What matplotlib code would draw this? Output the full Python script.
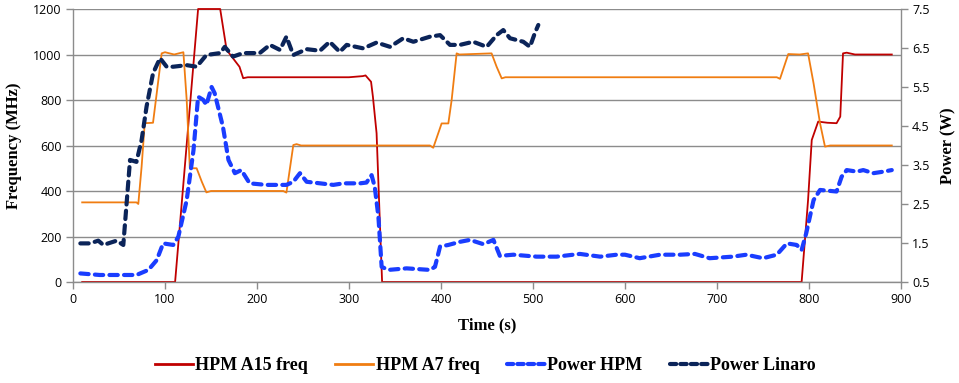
import matplotlib
matplotlib.use("Agg")
import matplotlib.pyplot as plt
from matplotlib.lines import Line2D

# ---- data ----
a15_t = [10, 105, 111, 136, 148, 160, 167, 181, 185, 190, 300, 315, 318, 324, 326, 330, 334, 336, 340,
         785, 792, 799, 803, 810, 820, 830, 834, 837, 841, 850, 890]
a15_f = [0, 0, 0, 1200, 1200, 1200, 1020, 946, 896, 900, 900, 905, 908, 880, 815, 654, 215, 0, 0,
         0, 0, 360, 624, 705, 700, 698, 727, 1005, 1008, 1000, 1000]

a7_t = [10, 69, 71, 74.6, 78, 87, 91, 96.4, 100, 110, 120, 123.6, 127, 134.4, 140, 145, 150, 228.6, 232,
        239.5, 243, 248, 388, 391.6, 400.7, 408, 411.6, 417, 420, 455, 460.5, 466, 470, 765, 768.5,
        777.5, 790, 799, 805, 812, 817.4, 823, 890]
a7_f = [350, 350, 343, 507, 698, 700, 829, 1005, 1010, 1000, 1010, 800, 500, 500, 441, 394, 400, 400, 393,
        602, 606, 600, 600, 590, 697, 697, 800, 1005, 1000, 1005, 946, 895, 900, 900, 893,
        1002, 1000, 1005, 873, 698, 595, 600, 600]

hpm_t = [8, 29, 69, 82, 91, 98, 109, 114.5, 123.6, 131, 136, 141.6, 145, 150.7, 154, 163, 169, 176, 183,
         192, 210, 232, 239.5, 246.7, 254, 268.5, 283, 294, 312, 319, 324.6, 328, 332, 335.5, 342.7,
         362.7, 388, 393.5, 399, 408, 420.6, 431.5, 446, 457, 464, 478.6, 504, 525.7, 551, 573, 591,
         600, 616, 638, 660, 676, 692, 717, 732, 750, 765, 776, 786.6, 792, 797, 805, 812, 830, 835.5,
         841, 852, 859, 870, 881, 890]
hpm_p = [0.72, 0.68, 0.68, 0.81, 1.06, 1.49, 1.45, 1.66, 2.6, 3.88, 5.25, 5.17, 5.04, 5.5, 5.34, 4.48, 3.63, 3.29, 3.37,
         3.03, 2.99, 2.99, 3.07, 3.29, 3.07, 3.03, 2.99, 3.03, 3.03, 3.05, 3.24, 2.94, 2.17, 0.89, 0.81,
         0.85, 0.81, 0.89, 1.41, 1.45, 1.53, 1.58, 1.47, 1.58, 1.17, 1.2, 1.15, 1.15, 1.22, 1.15, 1.2,
         1.2, 1.11, 1.2, 1.2, 1.22, 1.11, 1.15, 1.2, 1.11, 1.2, 1.49, 1.45, 1.32, 1.75, 2.6, 2.86, 2.82, 3.2,
         3.37, 3.33, 3.37, 3.29, 3.33, 3.37]

lin_t = [8, 18.5, 27.5, 33, 47.5, 54.7, 58, 62, 69, 74.6, 80, 87, 94.6, 101.8, 109, 123.6, 134.4, 145, 160,
         165, 174, 185, 203, 214, 225, 232, 239.5, 254, 268.5, 279, 290, 297.5, 315.6, 330, 344.6, 359,
         370, 388, 399, 409.8, 420.6, 435, 449.7, 460.5, 467.7, 475, 489.5, 496.7, 502, 505.8]
lin_p = [1.49, 1.49, 1.56, 1.45, 1.56, 1.45, 2.43, 3.63, 3.58, 4.14, 5.0, 5.85, 6.24, 6.02, 6.02, 6.06, 6.02, 6.32, 6.37,
         6.53, 6.28, 6.37, 6.37, 6.58, 6.45, 6.79, 6.32, 6.47, 6.43, 6.66, 6.4, 6.58, 6.49, 6.64, 6.53, 6.75,
         6.66, 6.79, 6.83, 6.58, 6.58, 6.66, 6.53, 6.83, 6.96, 6.75, 6.66, 6.53, 6.88, 7.09]

freq_ticks = [0, 200, 400, 600, 800, 1000, 1200]
power_ticks = [0.5, 1.5, 2.5, 3.5, 4.5, 5.5, 6.5, 7.5]
time_ticks = [0, 100, 200, 300, 400, 500, 600, 700, 800, 900]
labels = ["HPM A15 freq", "HPM A7 freq", "Power HPM", "Power Linaro"]

# ---- style ----
c_a15 = "#C00000"
c_a7 = "#F07D12"
c_hpm = "#1A3DFF"
c_lin = "#0B2459"
grid_c = "#8C8C8C"
tick_font = dict(family="Open Sans", size=9)
label_font = dict(family="Liberation Serif", weight="bold", size=12)

fig = plt.figure(figsize=(9.59, 3.83), dpi=100)
ax = fig.add_axes([0.0761, 0.2637, 0.8634, 0.7128])
ax2 = ax.twinx()

ax.plot(a15_t, a15_f, color=c_a15, lw=1.3, solid_joinstyle="round", clip_on=False)
ax.plot(a7_t, a7_f, color=c_a7, lw=1.3, solid_joinstyle="round")
dash = (0, (2.0, 1.5))
ax2.plot(hpm_t, hpm_p, color=c_hpm, lw=3.0, linestyle=dash, dash_capstyle="round", dash_joinstyle="round")
ax2.plot(lin_t, lin_p, color=c_lin, lw=3.0, linestyle=dash, dash_capstyle="round", dash_joinstyle="round")

ax.set_xlim(0, 900)
ax.set_ylim(0, 1200)
ax2.set_ylim(0.5, 7.5)
ax.set_xticks(time_ticks)
ax.set_yticks(freq_ticks)
ax2.set_yticks(power_ticks)
ax.set_xticklabels([str(v) for v in time_ticks], **tick_font)
ax.set_yticklabels([str(v) for v in freq_ticks], **tick_font)
ax2.set_yticklabels([str(v) for v in power_ticks], **tick_font)

ax.yaxis.grid(True, color=grid_c, lw=1.0)
ax.set_axisbelow(True)
for a in (ax, ax2):
    a.spines["top"].set_visible(False)
    for s in ("left", "right", "bottom"):
        a.spines[s].set_color(grid_c)
        a.spines[s].set_linewidth(1.0)
    a.tick_params(colors=grid_c, labelcolor="black", length=5, width=1.0, direction="out", pad=3)
ax2.spines["left"].set_visible(False)
ax2.spines["bottom"].set_visible(False)
ax.spines["right"].set_visible(False)

ax.set_xlabel("Time (s)", labelpad=8, **label_font)
ax.set_ylabel("Frequency (MHz)", labelpad=8, **label_font)
ax2.set_ylabel("Power (W)", labelpad=8, **label_font)

handles = [
    Line2D([], [], color=c_a15, lw=2.0),
    Line2D([], [], color=c_a7, lw=2.0),
    Line2D([], [], color=c_hpm, lw=3.0, linestyle=(0, (1.5, 1.0)), dash_capstyle="round"),
    Line2D([], [], color=c_lin, lw=3.0, linestyle=(0, (1.5, 1.0)), dash_capstyle="round"),
]
fig.legend(handles, labels, loc="center", bbox_to_anchor=(0.506, 0.045), ncol=4, frameon=False,
           prop=dict(family="Liberation Serif", weight="bold", size=13),
           handlelength=2.1, handletextpad=0.15, columnspacing=1.5)

fig.savefig("out.png", dpi=100)
